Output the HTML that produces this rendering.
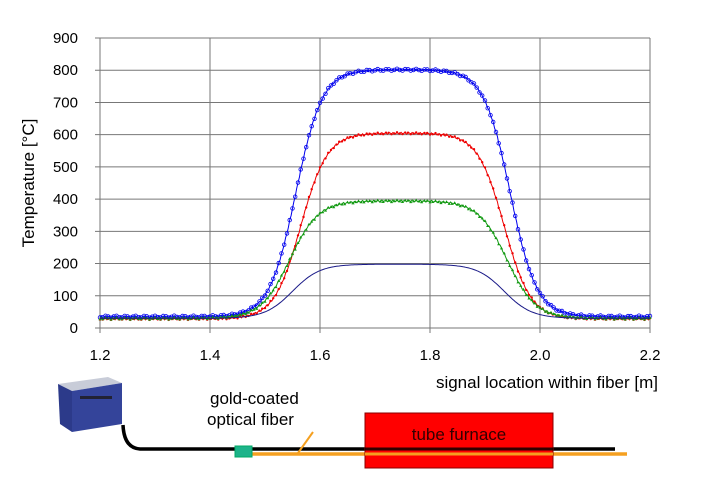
<!DOCTYPE html>
<html><head><meta charset="utf-8"><style>
body{margin:0;background:#fff;width:718px;height:478px;overflow:hidden}
svg{display:block;font-family:"Liberation Sans",sans-serif}
</style></head><body>
<svg id="s" width="718" height="478" viewBox="0 0 718 478">
<g id="grid" stroke="#777" stroke-width="1"></g>
<g id="lab" font-size="15" fill="#000"></g>
<text x="34" y="183" font-size="17" transform="rotate(-90 34 183)" text-anchor="middle">Temperature [°C]</text>
<text x="658" y="388" font-size="17" text-anchor="end">signal location within fiber [m]</text>
<g id="cur"></g>
<polygon points="58,384 108,377 122,383 72,391" fill="#c8ccd8"/>
<polygon points="58,384 72,391 72,432 60,424" fill="#2c3a8a"/>
<polygon points="72,391 122,383 122,424 72,432" fill="#34449a"/>
<rect x="80" y="396" width="32" height="3" fill="#223"/>
<path d="M123,425 Q124,448 140,449 L615,449" stroke="#000" stroke-width="3.5" fill="none"/>
<line x1="250" y1="454" x2="627" y2="454" stroke="#f5a020" stroke-width="3.5"/>
<rect x="235" y="446" width="17" height="11" fill="#1db38a" stroke="#0a6" stroke-width="1"/>
<rect x="365" y="413" width="188" height="55" fill="#ff0000" stroke="#800" stroke-width="1"/>
<line x1="365" y1="449" x2="553" y2="449" stroke="#000" stroke-width="3" opacity="0.8"/>
<line x1="365" y1="454" x2="553" y2="454" stroke="#f5a020" stroke-width="3"/>
<text x="459" y="440" font-size="17" text-anchor="middle" fill="#300">tube furnace</text>
<text x="210" y="404" font-size="17">gold-coated</text>
<text x="207" y="425" font-size="17">optical fiber</text>
<line x1="313" y1="432" x2="298" y2="453" stroke="#f5a020" stroke-width="2"/>
</svg>
<script>
const X=v=>100+(v-1.2)*550, Y=t=>328-t*0.3222;
const g=document.getElementById('grid'),l=document.getElementById('lab');
let h='',k='';
for(let t=0;t<=900;t+=100){h+=`<line x1="95" x2="650" y1="${Y(t)}" y2="${Y(t)}"/>`;k+=`<text x="78" y="${Y(t)+5}" text-anchor="end">${t}</text>`;}
for(let i=0;i<=5;i++){const v=1.2+i*0.2,x=X(v);h+=`<line x1="${x}" x2="${x}" y1="38" y2="333"/>`;k+=`<text x="${x}" y="360" text-anchor="middle">${v.toFixed(1)}</text>`;}
g.innerHTML=h;l.innerHTML=k;
const s=z=>1/(1+Math.exp(-z));
function T(x,base,P,a,b,w){return base+(P-base)*s((x-a)/w)*s((b-x)/w);}
const series=[
 {c:'#0000ee',b:35,P:802,a:1.556,bb:1.946,w:0.024,m:'o'},
 {c:'#ee0000',b:28,P:605,a:1.565,bb:1.935,w:0.024,m:'d'},
 {c:'#119911',b:30,P:395,a:1.545,bb:1.94,w:0.026,m:'t'},
 {c:'#1a1a88',b:30,P:198,a:1.55,bb:1.935,w:0.025,m:''}];
let o='';
for(const S of series){let p=[],mk='';let i=0;
 for(let x=1.2;x<=2.2001;x+=0.0025,i++){let t=T(x,S.b,S.P,S.a,S.bb,S.w);if(S.m)t+=(Math.sin(x*900)*3);
  const px=X(x).toFixed(1),py=Y(t).toFixed(1);p.push(px+','+py);
  if(i%2)continue;
  if(S.m=='o')mk+=`<circle cx="${px}" cy="${py}" r="1.8" fill="none" stroke="${S.c}" stroke-width="0.8"/>`;
  else if(S.m=='d')mk+=`<circle cx="${px}" cy="${py}" r="1.2" fill="${S.c}"/>`;
  else if(S.m=='t')mk+=`<path d="M${px-1.6},${+py+1.3}h3.2l-1.6,-2.7z" fill="${S.c}"/>`;}
 o+=`<polyline points="${p.join(' ')}" fill="none" stroke="${S.c}" stroke-width="1"/>`+mk;}
document.getElementById('cur').innerHTML=o;
</script>
</body></html>
